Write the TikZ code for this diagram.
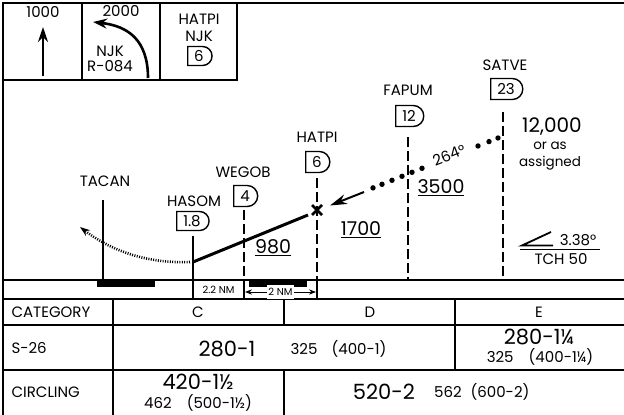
\documentclass[tikz,border=0pt]{standalone}
\usepackage{fontspec}
\setmainfont{Poppins}
\usetikzlibrary{arrows.meta,shapes.misc}

\begin{document}
\begin{tikzpicture}[x=1pt,y=-1pt,
    frame/.style={line width=1.6pt},
    fixline/.style={line width=1.2pt, dash pattern=on 10pt off 4pt},
    fixbox/.style={draw, line width=1.4pt, rounded rectangle, rounded rectangle left arc=none,
      minimum height=21pt, inner xsep=6.5pt, font=\fontsize{15}{17}\selectfont},
    lbl/.style={font=\fontsize{15}{17}\selectfont},
    alt/.style={font=\fontsize{19}{21}\selectfont},
    small/.style={font=\fontsize{15}{17}\selectfont},
    big/.style={font=\fontsize{21}{23}\selectfont}]
  \useasboundingbox (0,0) rectangle (624,415);
  \fill[white] (0,0) rectangle (624,415);

  % Draw the frame and the top boxes
  \draw[frame] (3,415) -- (3,3) -- (624,3);
  \draw[frame] (3,80) -- (237,80) -- (237,3);
  \draw[frame] (82,3) -- (82,80);
  \draw[frame] (160,3) -- (160,80);

  % Draw the missed approach instructions
  \node[lbl] (climb) at (43,12) {1000};
  \draw[-{Stealth[length=15pt,width=10pt]}, line width=2.6pt] (43,76) -- (43,27);
  \node[lbl] (turn) at (121,11) {2000};
  \node[lbl] (njk) at (110,51) {NJK};
  \node[lbl] (radial) at (110,66) {R-084};
  \draw[-{Stealth[length=14pt,width=10pt]}, line width=2.6pt] (148,78) .. controls (148,40) and (128,26) .. (93,22);
  \node[lbl] (hold fix) at (199,19) {HATPI};
  \node[lbl] (hold vor) at (199,36) {NJK};
  \node[fixbox, minimum height=19pt] (hold box) at (199,56) {6};

  % Draw the profile base lines and the runways
  \draw[frame] (3,280) -- (624,280);
  \draw[frame] (3,299) -- (624,299);
  \fill (97,281) rectangle (155,287);
  \fill (249,281) rectangle (307,287);

  % Draw the fixes
  \node[lbl] (tacan) at (105,181) {TACAN};
  \draw[line width=1.2pt] (103,200) -- (103,280);
  \node[lbl] (hasom) at (194,201) {HASOM};
  \node[fixbox, minimum height=19pt] (hasom box) at (192,221) {1.8};
  \draw[line width=1.2pt] (193,236) -- (193,299);
  \node[lbl] (wegob) at (243,172) {WEGOB};
  \node[fixbox] (wegob box) at (245,196) {4};
  \draw[fixline] (244,210) -- (244,280);
  \draw[line width=1.2pt] (244,280) -- (244,299);
  \node[lbl] (hatpi) at (317,137) {HATPI};
  \node[fixbox] (hatpi box) at (317,162) {6};
  \draw[fixline] (317,178) -- (317,280);
  \draw[line width=1.2pt] (317,280) -- (317,299);
  \node[lbl] (fapum) at (408,90) {FAPUM};
  \node[fixbox] (fapum box) at (409,116) {12};
  \draw[fixline] (408,137) -- (408,280);
  \node[lbl] (satve) at (505,65) {SATVE};
  \node[fixbox] (satve box) at (506,89) {23};
  \draw[fixline] (503,112) -- (503,280);

  % Draw the glide path and the missed approach
  \draw[line width=3pt] (193,262) -- (308,215);
  \draw[line width=2.6pt] (312,205) -- (322,215) (312,215) -- (322,205);
  \draw[line width=2.6pt, dash pattern=on 1pt off 1.4pt, -{Stealth[length=10pt,width=7pt]}]
    (190,262) .. controls (140,264) and (105,246) .. (80,227);

  % Draw the intermediate segment
  \foreach \x in {498,489,478,422,412,402,392,382,373}
    \fill (\x,{136+0.399*(503-\x)}) circle (2.7pt);
  \draw[line width=2pt, -{Stealth[length=17pt,width=10pt]}] (364,192) -- (330,205.5);
  \node[lbl, rotate=21.7, inner sep=0pt] (course) at (449,155) {264°};

  % Draw the altitudes
  \node[alt] (alt980) at (273,248) {\underline{980}};
  \node[alt] (alt1700) at (361,230) {\underline{1700}};
  \node[alt] (alt3500) at (441,188) {\underline{3500}};
  \node[font=\fontsize{20}{22}\selectfont] (alt12000) at (552,127) {12,000};
  \node[font=\fontsize{13.5}{15}\selectfont] (oras) at (550,146) {or as};
  \node[font=\fontsize{13.5}{15}\selectfont] (assigned) at (550,163) {assigned};

  % Draw the glide slope angle
  \draw[line width=1.8pt] (551,232) -- (522,245.5) -- (553,245.5);
  \node[lbl] (angle) at (578,240) {3.38°};
  \draw[line width=1pt] (520,249.5) -- (600,249.5);
  \node[lbl] (tch) at (561,259) {TCH 50};

  % Draw the distances
  \node[font=\fontsize{10}{11}\selectfont] (dist1) at (218.5,290) {2.2 NM};
  \draw[{Stealth[length=7pt]}-{Stealth[length=7pt]}, line width=0.8pt] (245,292) -- (316,292)
    node[midway, fill=white, inner xsep=1pt, font=\fontsize{10}{11}\selectfont] (dist2) {2 NM};

  % Draw the minimums table
  \draw[frame] (3,325) -- (624,325);
  \draw[frame] (3,370) -- (624,370);
  \draw[frame] (113,299) -- (113,415);
  \draw[frame] (284,299) -- (284,325);
  \draw[frame] (284,370) -- (284,415);
  \draw[frame] (455,299) -- (455,370);
  \node[lbl, anchor=west] (category) at (8,312) {CATEGORY};
  \node[lbl] (catc) at (198,312) {C};
  \node[lbl] (catd) at (370,312) {D};
  \node[lbl] (cate) at (539,312) {E};
  \node[lbl, anchor=west] (s26) at (8,348) {S-26};
  \node[big] (s26cd) at (227,349) {280-1};
  \node[small] (s26hat) at (304,349) {325};
  \node[small] (s26ha) at (359,349) {(400-1)};
  \node[big] (s26e) at (539,337) {280-1¼};
  \node[small] (s26ehat) at (540,357) {325\quad (400-1¼)};
  \node[lbl, anchor=west] (circling) at (8,392) {CIRCLING};
  \node[big] (circc) at (198,382) {420-1½};
  \node[small] (circchat) at (198,403) {462\quad (500-1½)};
  \node[big] (circde) at (384,392) {520-2};
  \node[small] (circdehat) at (448,392) {562};
  \node[small] (circdeha) at (500,392) {(600-2)};
\end{tikzpicture}
\end{document}
